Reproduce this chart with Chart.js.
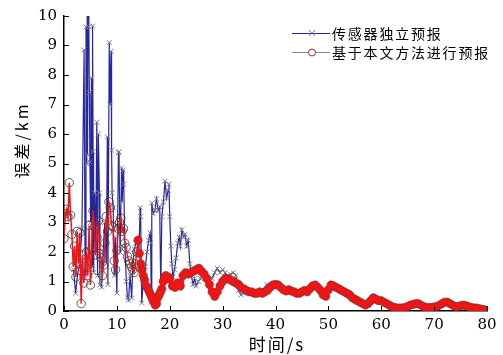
<!DOCTYPE html>
<html>
<head>
<meta charset="utf-8">
<script src="https://cdn.jsdelivr.net/npm/chart.js@4"></script>
<style>
  html, body { margin: 0; padding: 0; background: #fff; }
</style>
</head>
<body>
<canvas id="chart" width="503" height="355"></canvas>
<script>
// red series, t = 0 .. 20 s in 0.25 s steps
var redEarly = [2.45, 3.3, 3.45, 3.2, 4.35, 3.25, 2.6, 1.5, 2.2, 1.15,
  2.7, 1.6, 2.65, 0.25, 1.9, 0.95, 1.5, 2.0, 1.2, 2.9,
  0.88, 2.1, 3.4, 2.85, 1.9, 2.5, 3.05, 1.95, 1.8, 1.2,
  1.55, 2.3, 3.2, 2.7, 3.7, 3.5, 2.9, 2.85, 1.7, 1.4,
  2.05, 2.8, 3.0, 3.15, 2.7, 2.8, 2.3, 2.15, 1.85, 1.7,
  1.6, 1.5, 1.4, 1.3, 1.6, 2.0, 2.4, 1.95, 1.6, 1.4,
  1.2, 1.05, 0.85, 0.8, 0.7, 0.6, 0.5, 0.4, 0.3, 0.2,
  0.25, 0.45, 0.55, 0.65, 0.75, 1.0, 1.15, 1.2, 1.1, 1.15,
  1.1];
// red series, t = 20.5 .. 80 s in 0.5 s steps
var redLate = [0.85, 0.8, 0.95, 0.85, 1.2, 1.3, 1.25, 1.3, 1.35, 1.4,
  1.45, 1.35, 1.25, 1.1, 0.9, 0.65, 0.5, 0.65, 0.85, 1.0,
  1.1, 1.1, 1.05, 1.0, 0.95, 0.9, 0.8, 0.75, 0.7, 0.65,
  0.65, 0.6, 0.6, 0.65, 0.6, 0.65, 0.7, 0.8, 0.88, 0.9,
  0.88, 0.8, 0.72, 0.68, 0.72, 0.68, 0.65, 0.6, 0.6, 0.65,
  0.7, 0.65, 0.75, 0.85, 0.88, 0.8, 0.7, 0.55, 0.5, 0.72,
  0.88, 0.85, 0.8, 0.75, 0.7, 0.65, 0.6, 0.55, 0.45, 0.4,
  0.35, 0.3, 0.25, 0.2, 0.25, 0.35, 0.45, 0.4, 0.35, 0.35,
  0.3, 0.25, 0.2, 0.15, 0.12, 0.1, 0.1, 0.1, 0.12, 0.15,
  0.2, 0.22, 0.25, 0.25, 0.2, 0.15, 0.12, 0.12, 0.12, 0.14,
  0.15, 0.2, 0.25, 0.3, 0.3, 0.25, 0.2, 0.15, 0.15, 0.18,
  0.2, 0.18, 0.15, 0.12, 0.1, 0.1, 0.08, 0.06, 0.04, 0.03];

var blueTime = [1.8, 2.2, 2.6, 3.0, 3.4, 3.8, 4.0, 4.16, 4.3, 4.4,
  4.45, 4.55, 4.7, 4.8, 4.9, 5.05, 5.2, 5.3, 5.4, 5.5,
  5.6, 5.8, 6.0, 6.2, 6.35, 6.5, 6.7, 6.8, 7.1, 7.4,
  7.7, 8.0, 8.2, 8.3, 8.56, 8.7, 8.9, 9.0, 9.1, 9.3,
  9.5, 9.7, 10.0, 10.3, 10.4, 10.6, 10.9, 11.0, 11.2, 11.3,
  11.5, 11.8, 12.0, 12.2, 12.5, 12.8, 13.0, 13.3, 13.6, 14.0,
  14.2, 14.4, 14.5, 14.7, 15.0, 15.4, 15.7, 16.0, 16.3, 16.4,
  16.5, 16.6, 16.9, 17.2, 17.5, 17.8, 18.1, 18.3, 18.5, 18.8,
  19.1, 19.4, 19.7, 19.85, 20.0, 20.2, 20.4, 20.6, 20.9, 21.2,
  21.5, 21.8, 22.0, 22.3, 22.6, 22.9, 23.2, 23.5, 23.8, 24.1,
  24.4, 24.7, 25.0, 25.4, 25.8, 26.2, 26.6, 27.0, 27.5, 28.0,
  28.5, 29.0, 29.5, 30.0, 30.5, 31.0, 31.5, 32.0, 32.5, 33.0,
  33.5, 34.0, 34.5, 35.5, 36.5, 37.5, 38.4, 39.0, 40.0, 41.0,
  42.5];
var blueErr = [1.4, 0.6, 1.3, 1.6, 2.8, 8.85, 1.2, 9.63, 5.0, 10.8,
  5.3, 10.8, 9.63, 7.4, 5.05, 3.0, 7.9, 1.5, 9.66, 5.4,
  1.3, 4.0, 2.0, 6.4, 1.2, 6.0, 4.0, 0.88, 0.81, 2.0,
  3.0, 1.6, 5.9, 0.9, 9.1, 7.0, 8.8, 5.45, 4.0, 3.5,
  1.2, 2.5, 0.61, 5.37, 5.4, 2.0, 4.85, 3.7, 4.78, 4.3,
  2.2, 1.0, 0.45, 0.37, 1.2, 0.44, 1.5, 2.1, 2.3, 2.4,
  2.17, 3.5, 3.2, 0.27, 1.0, 1.5, 2.0, 2.4, 2.64, 2.3,
  0.3, 3.66, 3.3, 3.42, 3.8, 3.4, 3.53, 0.7, 3.2, 3.7,
  4.4, 3.83, 4.1, 4.3, 3.2, 2.2, 1.6, 1.15, 1.4, 1.8,
  2.3, 2.5, 2.2, 2.75, 2.5, 2.6, 2.2, 2.4, 1.6, 1.2,
  0.9, 1.1, 0.85, 1.0, 1.1, 1.2, 1.25, 1.15, 1.0, 1.1,
  1.3, 1.45, 1.3, 1.4, 1.3, 1.15, 1.25, 1.3, 1.2, 0.7,
  0.55, 0.6, 0.7, 0.65, 0.6, 0.7, 0.9, 0.8, 0.95, 0.8,
  0.7];

var xTicks = [0, 10, 20, 30, 40, 50, 60, 70, 80];
var yTicks = [0, 1, 2, 3, 4, 5, 6, 7, 8, 9, 10];
var seriesNames = ["传感器独立预报", "基于本文方法进行预报"];
var xTitle = "时间/s";
var yTitle = "误差/km";

var redPoints = redEarly.map(function (v, i) { return { x: i * 0.25, y: v }; })
  .concat(redLate.map(function (v, i) { return { x: 20.5 + i * 0.5, y: v }; }));
var bluePoints = blueTime.map(function (t, i) { return { x: t, y: blueErr[i] }; });

var BLUE = "#2626a0";
var RED = "#f01414";
var tickFont = { family: "DejaVu Serif", size: 15 };
var cjk = '"Noto Sans CJK SC", sans-serif';

var decor = {
  id: "decor",
  afterDraw: function (chart) {
    var ctx = chart.ctx, a = chart.chartArea;
    var xs = chart.scales.x, ys = chart.scales.y;
    ctx.save();
    // inward tick marks
    ctx.strokeStyle = "#000";
    ctx.lineWidth = 1;
    ctx.beginPath();
    xTicks.forEach(function (t) {
      var px = Math.round(xs.getPixelForValue(t)) + 0.5;
      ctx.moveTo(px, a.bottom); ctx.lineTo(px, a.bottom - 5);
    });
    yTicks.forEach(function (t) {
      var py = Math.round(ys.getPixelForValue(t)) + 0.5;
      ctx.moveTo(a.left, py); ctx.lineTo(a.left + 5, py);
    });
    ctx.stroke();

    // axis titles
    ctx.fillStyle = "#000";
    ctx.font = "17px " + cjk;
    ctx.textAlign = "center";
    ctx.textBaseline = "middle";
    ctx.letterSpacing = "2px";
    ctx.fillText(xTitle, 277, 345);
    ctx.font = "16px " + cjk;
    ctx.letterSpacing = "3px";
    ctx.save();
    ctx.translate(22, 140);
    ctx.rotate(-Math.PI / 2);
    ctx.fillText(yTitle, 0, 0);
    ctx.restore();

    // legend
    ctx.font = "14px " + cjk;
    ctx.letterSpacing = "1.8px";
    ctx.textAlign = "left";
    var rows = [33, 52];
    ctx.lineWidth = 1;
    ctx.strokeStyle = BLUE;
    ctx.beginPath(); ctx.moveTo(292, rows[0] + 0.5); ctx.lineTo(330, rows[0] + 0.5); ctx.stroke();
    ctx.strokeStyle = "#777";
    ctx.beginPath();
    ctx.moveTo(309, rows[0] - 3); ctx.lineTo(315, rows[0] + 3);
    ctx.moveTo(315, rows[0] - 3); ctx.lineTo(309, rows[0] + 3);
    ctx.stroke();
    ctx.strokeStyle = "#888";
    ctx.beginPath(); ctx.moveTo(292, rows[1] + 0.5); ctx.lineTo(330, rows[1] + 0.5); ctx.stroke();
    ctx.fillStyle = "#fff";
    ctx.strokeStyle = "#9a2a2a";
    ctx.beginPath(); ctx.arc(312, rows[1] + 0.5, 3.5, 0, Math.PI * 2); ctx.fill(); ctx.stroke();
    ctx.fillStyle = "#000";
    ctx.fillText(seriesNames[0], 332, rows[0] + 1);
    ctx.fillText(seriesNames[1], 332, rows[1] + 1);
    ctx.restore();
  }
};

new Chart(document.getElementById("chart"), {
  type: "line",
  data: {
    datasets: [
      {
        label: seriesNames[1] + " line",
        data: redPoints,
        borderColor: RED,
        borderWidth: 1.5,
        segment: {
          borderWidth: function (c) { return c.p0.parsed.x >= 15 ? 5 : 1.5; }
        },
        pointRadius: 0,
        order: 1
      },
      {
        label: seriesNames[1],
        data: redPoints,
        showLine: false,
        pointStyle: "circle",
        pointRadius: 4.2,
        pointBorderWidth: 1,
        pointBorderColor: function (c) {
          return c.raw && c.raw.x >= 14 ? "rgba(70,70,70,0.45)" : "rgba(50,50,50,0.8)";
        },
        pointBackgroundColor: function (c) {
          return c.raw && c.raw.x >= 14 ? RED : "rgba(255,255,255,0)";
        },
        order: 2
      },
      {
        label: seriesNames[0],
        data: bluePoints,
        borderColor: BLUE,
        borderWidth: 1.2,
        pointStyle: "crossRot",
        pointRadius: 3.5,
        pointBorderWidth: 1,
        pointBorderColor: "#7a7a8a",
        order: 3
      }
    ]
  },
  options: {
    responsive: false,
    animation: false,
    devicePixelRatio: 1,
    layout: { padding: { left: 0, right: 16, top: 16, bottom: 0 } },
    plugins: { legend: { display: false }, tooltip: { enabled: false } },
    elements: { line: { tension: 0 } },
    scales: {
      x: {
        type: "linear",
        min: 0,
        max: 80,
        ticks: { stepSize: 10, color: "#000", font: tickFont, padding: 5, maxRotation: 0 },
        grid: { display: false, drawTicks: false },
        border: { color: "#000", width: 1.5 },
        afterFit: function (s) { s.height = 44; }
      },
      y: {
        min: 0,
        max: 10,
        ticks: { stepSize: 1, color: "#000", font: tickFont, padding: 7 },
        grid: { display: false, drawTicks: false },
        border: { color: "#000", width: 1.5 },
        afterFit: function (s) { s.width = 64; }
      }
    }
  },
  plugins: [decor]
});
</script>
</body>
</html>
